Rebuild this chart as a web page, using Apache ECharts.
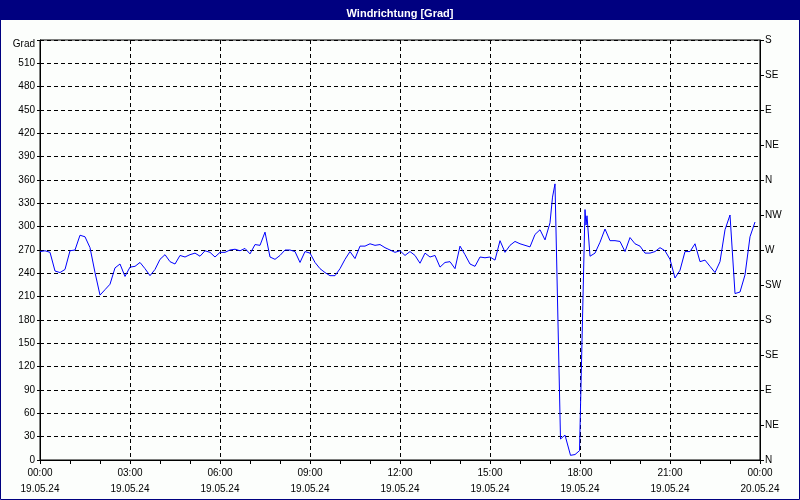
<!DOCTYPE html>
<html>
<head>
<meta charset="utf-8">
<script src="https://cdn.jsdelivr.net/npm/echarts@6/dist/echarts.min.js"></script>
<style>
html,body{margin:0;padding:0;background:#fff;}
#chart{width:800px;height:500px;}
</style>
</head>
<body>
<div id="chart"></div>
<script>
// Measurement times (19.05.24, HH:MM)
var times = [
"00:00","00:10","00:20","00:30","00:40","00:50",
"01:00","01:10","01:20","01:30","01:40","01:50",
"02:00","02:10","02:20","02:30","02:40","02:50",
"03:00","03:10","03:20","03:30","03:40","03:50",
"04:00","04:10","04:20","04:30","04:40","04:50",
"05:00","05:10","05:20","05:30","05:40","05:50",
"06:00","06:10","06:20","06:30","06:40","06:50",
"07:00","07:10","07:20","07:30","07:40","07:50",
"08:00","08:10","08:20","08:30","08:40","08:50",
"09:00","09:10","09:20","09:30","09:40","09:50",
"10:00","10:10","10:20","10:30","10:40","10:50",
"11:00","11:10","11:20","11:30","11:40","11:50",
"12:00","12:10","12:20","12:30","12:40","12:50",
"13:00","13:10","13:20","13:30","13:40","13:50",
"14:00","14:10","14:20","14:30","14:40","14:50",
"15:00","15:10","15:20","15:30","15:40","15:50",
"16:00","16:10","16:20","16:30","16:40","16:50",
"17:00","17:05","17:10","17:21","17:30","17:41","17:50","17:59",
"18:10","18:12","18:14","18:20","18:30","18:40","18:50",
"19:00","19:10","19:20","19:30","19:40","19:50",
"20:00","20:10","20:20","20:30","20:40","20:50",
"21:00","21:10","21:20","21:30","21:40","21:50",
"22:00","22:10","22:20","22:30","22:40","22:50",
"23:00","23:10","23:20","23:30","23:40","23:50"
];
// Wind direction [Grad]
var windDir = [
268,269,267,243,241,245,
269,270,289,287,273,241,
212,219,226,247,252,236,
248,249,254,246,237,245,
258,264,255,252,263,261,
264,266,262,269,267,261,
267,267,270,271,269,272,
265,277,276,293,261,258,
263,270,270,268,254,268,
266,254,246,241,237,237,
246,258,268,259,275,275,
278,276,277,273,270,267,
269,263,268,263,253,266,
261,263,248,254,255,246,
275,264,252,249,261,260,
261,257,282,267,276,281,
278,276,274,290,296,283,
305,338,355,27,32,6,7,12,
322,302,314,262,266,280,297,
282,282,281,268,286,278,
275,266,266,268,273,269,
258,234,244,268,268,278,
255,257,249,241,255,296,
315,214,216,238,287,306
];
// Axis tick labels
var dayLabels = ["19.05.24","20.05.24"];
var compassLabels = ["N","NE","E","SE","S","SW","W","NW","N","NE","E","SE","S"];
var chartTitle = "Windrichtung [Grad]";
var unitLabel = "Grad";

function toMin(t){var p=t.split(":");return (+p[0])*60+(+p[1]);}
var seriesData = times.map(function(t,i){return [toMin(t), windDir[i]];});

var font = "'Liberation Sans', Arial, sans-serif";
var chart = echarts.init(document.getElementById('chart'), null, {renderer:'canvas'});
chart.setOption({
  backgroundColor:'#fcfefc',
  animation:false,
  title:{
    text:chartTitle, left:'center', top:3,
    textStyle:{color:'#ffffff', fontSize:11, fontWeight:'bold', fontFamily:font}
  },
  graphic:[
    {type:'rect', z:-1, shape:{x:0,y:0,width:800,height:20}, style:{fill:'#000080'}},
    {type:'rect', z:-1, shape:{x:0.5,y:0.5,width:799,height:499}, style:{fill:'none', stroke:'#000080', lineWidth:1}}
  ],
  grid:{left:40, right:40, top:40, bottom:40, show:true, borderColor:'#000', borderWidth:1, backgroundColor:'transparent'},
  xAxis:{
    type:'value', min:0, max:1440, interval:180,
    axisLine:{show:true, lineStyle:{color:'#000', width:1}},
    axisTick:{show:true, length:4, lineStyle:{color:'#000'}},
    minorTick:{show:true, splitNumber:3, length:4, lineStyle:{color:'#000'}},
    splitLine:{show:true, lineStyle:{color:'#000', type:[4,3], width:1}},
    axisLabel:{
      margin:5, color:'#000', fontSize:10, fontFamily:font, lineHeight:16,
      formatter:function(v){
        var h=Math.floor(v/60)%24, m=v%60;
        var s=(h<10?'0':'')+h+':'+(m<10?'0':'')+m;
        return s+'\n'+dayLabels[v>=1440?1:0];
      }
    }
  },
  yAxis:[
    {
      type:'value', min:0, max:540, interval:30, position:'left',
      axisLine:{show:true, lineStyle:{color:'#000', width:1}},
      axisTick:{show:true, length:3, lineStyle:{color:'#000'}},
      splitLine:{show:true, lineStyle:{color:'#000', type:[4,3], width:1}},
      axisLabel:{
        margin:5, color:'#000', fontSize:10, fontFamily:font,
        formatter:function(v){return v===540?'{g|'+unitLabel+'}':String(v);},
        rich:{g:{padding:[9,0,0,0], fontSize:10, fontFamily:font, color:'#000'}}
      }
    },
    {
      type:'value', min:0, max:540, interval:45, position:'right',
      axisLine:{show:true, lineStyle:{color:'#000', width:1}},
      axisTick:{show:true, length:4, lineStyle:{color:'#000'}},
      splitLine:{show:false},
      axisLabel:{
        margin:5, color:'#000', fontSize:10, fontFamily:font,
        formatter:function(v){return compassLabels[Math.round(v/45)];}
      }
    }
  ],
  series:[{
    type:'line', data:seriesData, yAxisIndex:0,
    showSymbol:false, symbol:'none', smooth:false,
    lineStyle:{color:'#0000ff', width:1},
    clip:true
  }]
});
</script>
</body>
</html>
